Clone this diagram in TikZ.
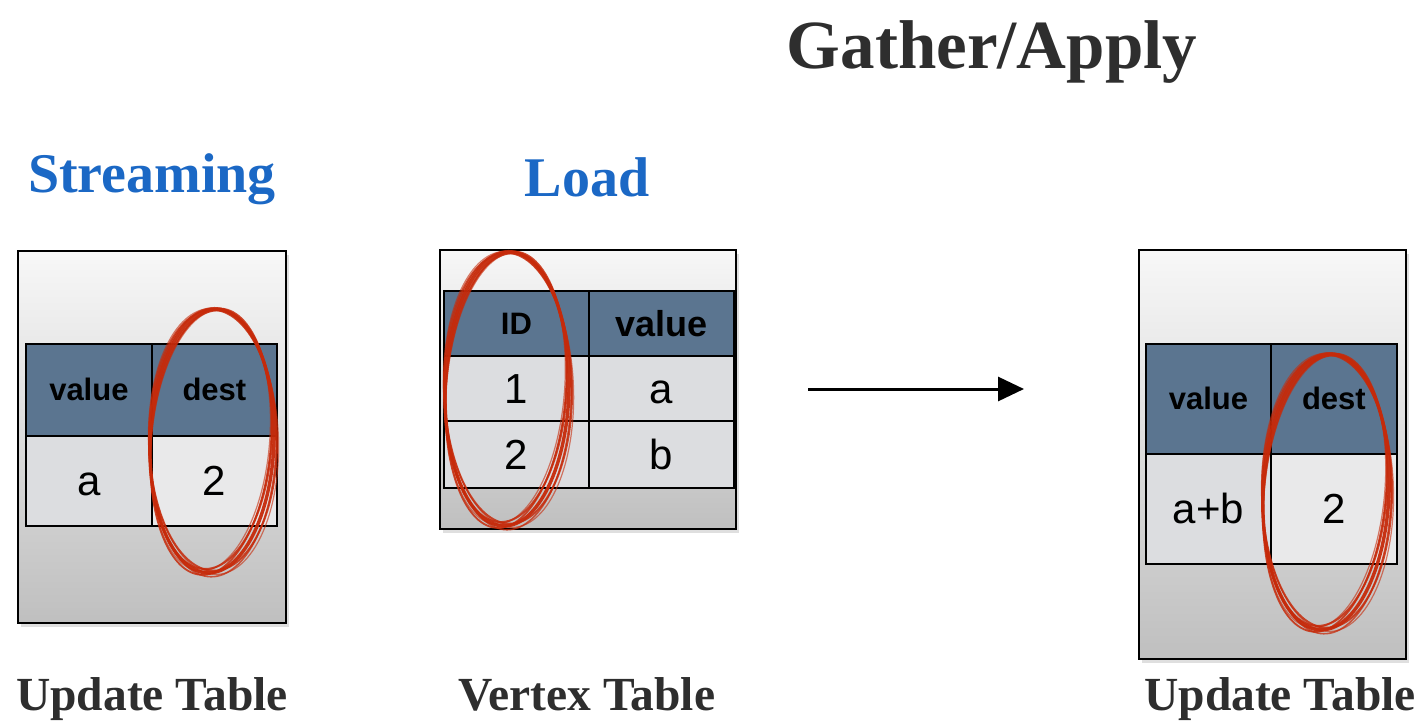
\documentclass[tikz,border=0pt]{standalone}
\usepackage{fontspec}
\setmainfont{Liberation Serif}
\newfontfamily\cellfont{Liberation Sans}
\usetikzlibrary{shadows,arrows.meta}

\definecolor{hdrblue}{HTML}{5B7590}
\definecolor{cellgray}{HTML}{DCDDE0}
\definecolor{celllight}{HTML}{E9E9EA}
\definecolor{stageblue}{HTML}{1B68C5}
\definecolor{inkred}{HTML}{C62A0A}
\definecolor{titlegray}{HTML}{2E2E2E}

% hand-drawn loop: centre x, centre y, x radius, y radius, tilt
\newcommand\inkloop[5]{%
  \begin{scope}[shift={(#1,#2)}, rotate=#5]
    \foreach \dx/\dy/\dr/\w/\o in {0/0/0/3.4/0.95, 2/-1.5/2.5/2.0/0.85, -2/1.5/-2.5/1.8/0.85,
                                   1.5/2.5/1.2/1.6/0.75, -1.5/-2.5/-1.5/2.0/0.85, 3/1/3.5/1.2/0.6,
                                   -3/-1/-3/1.2/0.6}
      \draw[inkred, line width=\w pt, opacity=\o, rotate=\dr]
        (\dx/2,\dy/2) ellipse [x radius=#3+\dx, y radius=#4+\dy];
  \end{scope}}

\tikzset{
  panel/.style={draw=black, line width=1.6pt, anchor=north west, inner sep=0,
    top color=black!3, middle color=black!9, bottom color=black!25,
    drop shadow={shadow xshift=3pt, shadow yshift=-4pt, opacity=0.25}},
  cell/.style={draw=black, line width=1.8pt, anchor=north west, inner sep=0, text depth=0pt},
  headcell/.style={cell, fill=hdrblue, text height=22pt, font=\cellfont\bfseries\fontsize{31}{36}\selectfont},
  bigheadcell/.style={cell, fill=hdrblue, text height=26pt, font=\cellfont\bfseries\fontsize{36}{40}\selectfont},
  bodycell/.style={cell, fill=cellgray, text height=30pt, font=\cellfont\fontsize{42}{48}\selectfont},
  stage/.style={anchor=base, text=stageblue, font=\bfseries\fontsize{56}{60}\selectfont},
  caption/.style={anchor=base, text=titlegray, font=\bfseries\fontsize{47.5}{52}\selectfont},
  flow/.style={line width=3pt, -{Triangle[length=26pt, width=24pt]}},
}

\begin{document}
\begin{tikzpicture}[x=1pt, y=-1pt]
  \useasboundingbox (0,0) rectangle (1423,720);

  % headings
  \node[anchor=base, text=titlegray, font=\bfseries\fontsize{69}{74}\selectfont] (phase) at (992,68) {Gather/Apply};
  \node[stage] (stream) at (152,192) {Streaming};
  \node[stage] (load) at (587,196) {Load};

  % update table before the gather
  \node[panel, minimum width=268pt, minimum height=372pt] (Lpanel) at (17,250) {};
  \node[headcell, minimum width=126pt, minimum height=92pt] (Lh1) at (25,343) {value};
  \node[headcell, minimum width=125pt, minimum height=92pt] (Lh2) at (151,343) {dest};
  \node[bodycell, minimum width=126pt, minimum height=90pt] (Lc1) at (25,435) {a};
  \node[bodycell, fill=celllight, minimum width=125pt, minimum height=90pt] (Lc2) at (151,435) {2};
  \inkloop{212}{441}{62}{132}{-2}
  \node[caption] (Lcap) at (152,710) {Update Table};

  % vertex table
  \node[panel, minimum width=296pt, minimum height=279pt] (Mpanel) at (439,249) {};
  \node[headcell, minimum width=145pt, minimum height=65pt] (Mh1) at (443,290) {ID};
  \node[bigheadcell, minimum width=145pt, minimum height=65pt] (Mh2) at (588,290) {value};
  \node[bodycell, minimum width=145pt, minimum height=65pt] (Mc11) at (443,355) {1};
  \node[bodycell, minimum width=145pt, minimum height=65pt] (Mc12) at (588,355) {a};
  \node[bodycell, minimum width=145pt, minimum height=67pt] (Mc21) at (443,420) {2};
  \node[bodycell, minimum width=145pt, minimum height=67pt] (Mc22) at (588,420) {b};
  \inkloop{507}{389}{62}{137}{-1.5}
  \node[caption] (Mcap) at (587,710) {Vertex Table};

  % gather step
  \coordinate (from) at (808,389);
  \coordinate (to) at (1024,389);
  \draw[flow] (from) -- (to);

  % update table after the gather
  \node[panel, minimum width=267pt, minimum height=409pt] (Rpanel) at (1138,249) {};
  \node[headcell, minimum width=125pt, minimum height=110pt] (Rh1) at (1145,343) {value};
  \node[headcell, minimum width=126pt, minimum height=110pt] (Rh2) at (1270,343) {dest};
  \node[bodycell, minimum width=125pt, minimum height=110pt] (Rc1) at (1145,453) {a+b};
  \node[bodycell, fill=celllight, minimum width=126pt, minimum height=110pt] (Rc2) at (1270,453) {2};
  \inkloop{1326}{492}{63}{138}{-2.5}
  \node[caption] (Rcap) at (1280,710) {Update Table};
\end{tikzpicture}
\end{document}
